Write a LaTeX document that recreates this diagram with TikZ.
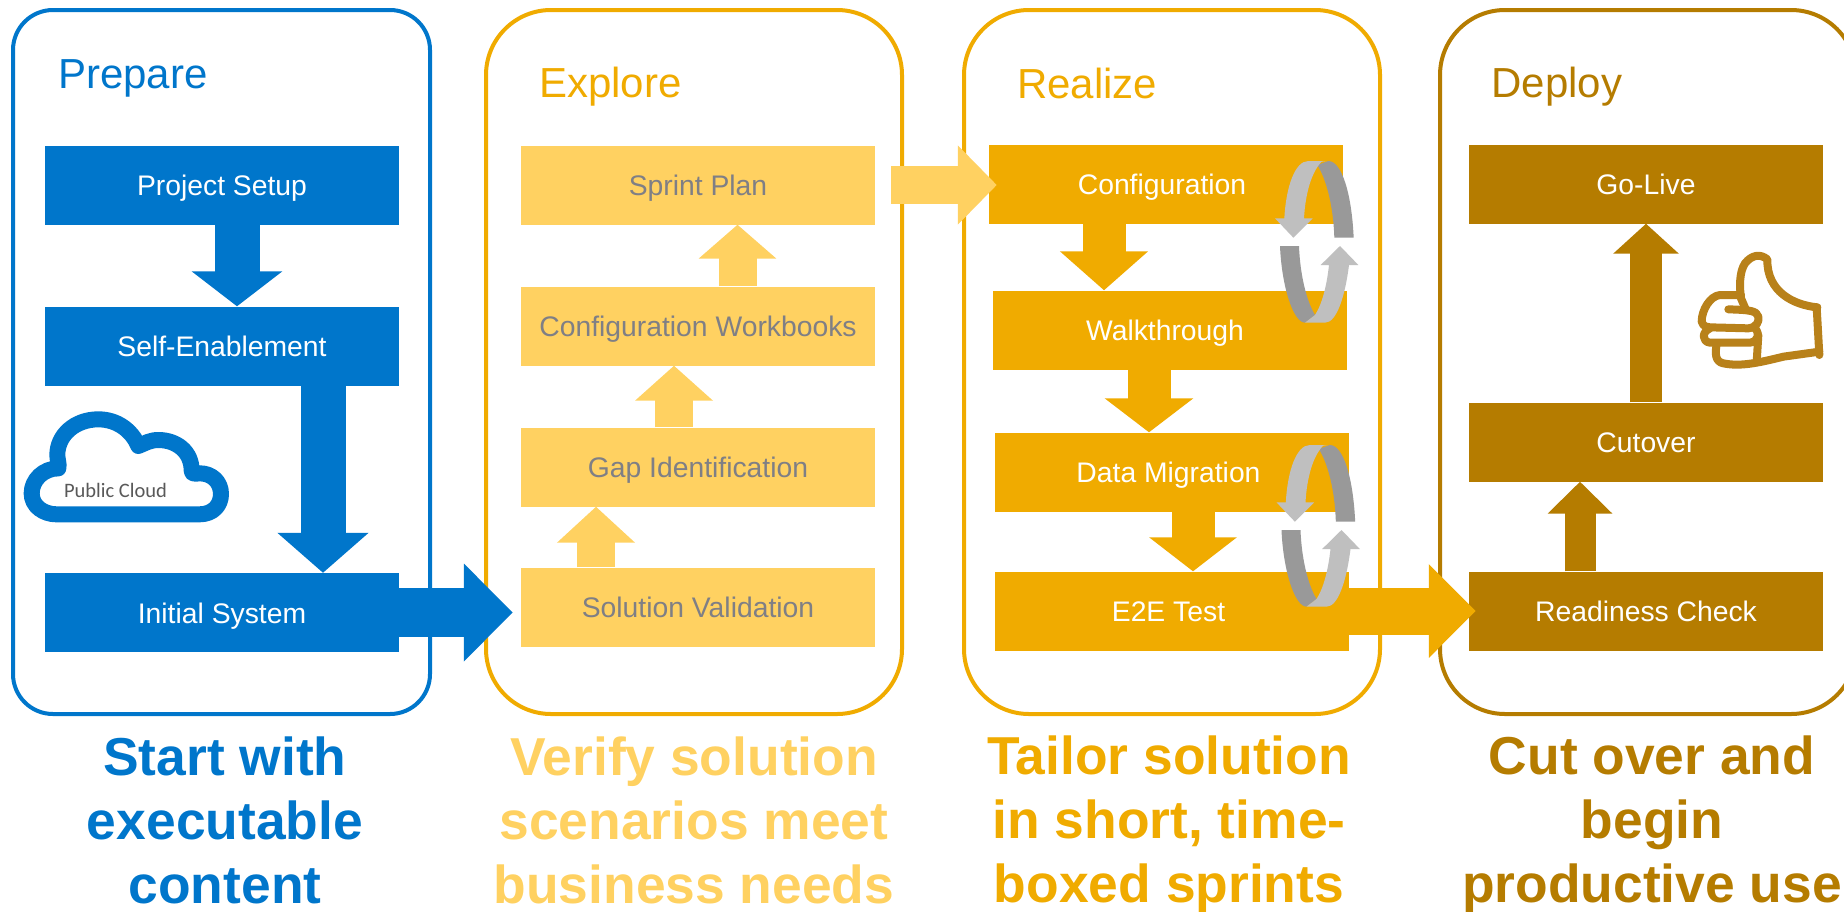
\documentclass[tikz,border=0pt]{standalone}
\usepackage{fontspec}
\setmainfont{Liberation Sans}
\newfontfamily\cloudfont{Carlito}
\usetikzlibrary{arrows.meta}
\definecolor{sapblue}{HTML}{0076CB}
\definecolor{saplight}{HTML}{FFD161}
\definecolor{sapgold}{HTML}{F0AB00}
\definecolor{sapbrown}{HTML}{B57C00}
\definecolor{sapthumb}{HTML}{B8811A}
\definecolor{saptext}{HTML}{7F7F85}
\tikzset{
  phase/.style = {draw = #1, line width = 4pt, fill = white},
  title/.style = {anchor = base west, text = #1, font = \fontsize{42}{42}\selectfont},
  stepbox/.style = {fill = #1, minimum width = 354pt, minimum height = 79pt, inner sep = 0pt, text height = 21pt, text depth = 0pt, text = white, font = \fontsize{28.3}{28.3}\selectfont},
  claim/.style = {text = #1, inner sep = 0pt, align = center, font = \fontsize{53.4}{64}\selectfont\bfseries},
  flow/.style = {draw = #1, line width = 38pt},
  pics/cycle/.code = {
    \fill[black!40] (295,93) .. controls (335,93) and (365,190) .. (371,323) -- (313,323) .. controls (310,230) and (290,150) .. (262,105) -- cycle;
    \fill[black!25] (290,93) -- (235,93) .. controls (195,93) and (168,170) .. (163,265) -- (135,265) -- (190,323) -- (248,265) -- (222,265) .. controls (226,190) and (245,125) .. (275,95) -- cycle;
    \fill[black!40] (150,348) -- (207,348) .. controls (210,430) and (228,510) .. (255,555) -- (225,578) .. controls (190,578) and (155,470) .. (150,348) -- cycle;
    \fill[black!25] (225,578) -- (285,578) .. controls (320,578) and (345,500) .. (357,405) -- (385,405) -- (330,348) -- (272,405) -- (297,405) .. controls (290,470) and (275,525) .. (255,555) -- cycle;
  }
}
\begin{document}
\begin{tikzpicture}[x = 1pt, y = -1pt]
\useasboundingbox (0,0) rectangle (1844,911);
% frames
\draw[phase = sapblue, rounded corners = 40pt] (13,10) rectangle (430,714);
\draw[phase = sapgold, rounded corners = 65pt] (486,10) rectangle (902,714);
\draw[phase = sapgold, rounded corners = 65pt] (964,10) rectangle (1380,714);
\draw[phase = sapbrown, rounded corners = 65pt] (1440,10) rectangle (1856,714);
\node[title = sapblue] (prepare) at (54.5,88.5) {Prepare};
\node[title = sapgold] (explore) at (535.5,97) {Explore};
\node[title = sapgold] (realize) at (1013.5,98) {Realize};
\node[title = sapbrown] (deploy) at (1488,97) {Deploy};
% prepare
\node[stepbox = sapblue] (setup) at (222,185) {Project Setup};
\node[stepbox = sapblue] (enable) at (222,346) {Self-Enablement};
\node[stepbox = sapblue] (initial) at (222,612.5) {Initial System};
% explore
\node[stepbox = saplight, text = saptext] (sprint) at (698,185) {Sprint Plan};
\node[stepbox = saplight, text = saptext] (workbooks) at (698,326) {Configuration Workbooks};
\node[stepbox = saplight, text = saptext] (gap) at (698,467) {Gap Identification};
\node[stepbox = saplight, text = saptext] (validation) at (698,607) {Solution Validation};
% realize
\node[stepbox = sapgold] (config) at (1166,184) {Configuration\hspace*{8pt}};
\node[stepbox = sapgold] (walk) at (1170,330) {Walkthrough\hspace*{10pt}};
\node[stepbox = sapgold] (migration) at (1172,472) {Data Migration\hspace*{7pt}};
\node[stepbox = sapgold] (test) at (1172,611) {E2E Test\hspace*{7pt}};
% deploy
\node[stepbox = sapbrown] (golive) at (1646,184) {Go-Live};
\node[stepbox = sapbrown] (cutover) at (1646,442) {Cutover};
\node[stepbox = sapbrown] (readiness) at (1646,611) {Readiness Check};
% arrows
\draw[flow = sapblue, line width = 45pt, -{Triangle[length = 35pt, width = 89pt]}] ([xshift = 15pt]setup.south) -- ([xshift = 15pt]enable.north);
\draw[flow = sapblue, line width = 45pt, -{Triangle[length = 40pt, width = 89pt]}] ([xshift = 101pt]enable.south) -- ([xshift = 101pt]initial.north);
\draw[flow = sapblue, line width = 49pt, -{Triangle[length = 49pt, width = 95pt]}] (initial.east) -- ([xshift = -8pt]validation.west |- initial.east);
\draw[flow = saplight, -{Triangle[length = 36pt, width = 76pt]}] ([xshift = -102pt]validation.north) -- ([xshift = -102pt]gap.south);
\draw[flow = saplight, -{Triangle[length = 35pt, width = 76pt]}] ([xshift = -24pt]gap.north) -- ([xshift = -24pt]workbooks.south);
\draw[flow = saplight, -{Triangle[length = 34pt, width = 76pt]}] ([xshift = 39.5pt]workbooks.north) -- ([xshift = 39.5pt]sprint.south);
\draw[flow = saplight, -{Triangle[length = 39pt, width = 77pt]}] ([xshift = 16pt]sprint.east) -- ([xshift = 8pt]config.west |- sprint.east);
\draw[flow = sapgold, line width = 43pt, -{Triangle[length = 39pt, width = 86pt]}] ([xshift = -62pt]config.south) -- ([xshift = -62pt]config.south |- walk.north);
\draw[flow = sapgold, line width = 43pt, -{Triangle[length = 34pt, width = 87pt]}] ([xshift = -21pt]walk.south) -- ([xshift = -21pt]walk.south |- migration.north);
\draw[flow = sapgold, line width = 43pt, -{Triangle[length = 34pt, width = 86pt]}] ([xshift = 21pt]migration.south) -- ([xshift = 21pt]test.north);
\draw[flow = sapgold, line width = 47pt, -{Triangle[length = 47pt, width = 91pt]}] (test.east) -- ([xshift = 7pt]readiness.west);
\draw[flow = sapbrown, line width = 31pt, -{Triangle[length = 32pt, width = 63pt]}] ([xshift = -66pt]readiness.north) -- ([xshift = -66pt]cutover.south);
\draw[flow = sapbrown, line width = 32pt, -{Triangle[length = 30pt, width = 64pt]}] (cutover.north) -- (golive.south);
% sprint cycles
\begin{scope}[shift = {(1230,130)}, scale = 1/3]
\pic {cycle};
\end{scope}
\begin{scope}[shift = {(1231.5,414)}, scale = 1/3]
\pic {cycle};
\end{scope}
% cloud
\begin{scope}[shift = {(0,380)}, scale = 1/3]
\draw[sapblue, line width = 16pt, line join = round] (170,403) -- (598,403) .. controls (640,403) and (663,375) .. (663,342) .. controls (663,305) and (635,280) .. (600,280) .. controls (590,280) and (575,285) .. (575,272) .. controls (575,215) and (530,180) .. (475,180) .. controls (450,180) and (435,190) .. (415,198) .. controls (395,150) and (350,118) .. (295,118) .. controls (225,118) and (172,165) .. (172,225) .. controls (172,240) and (178,250) .. (175,265) .. controls (130,265) and (95,300) .. (95,340) .. controls (95,378) and (130,403) .. (170,403) -- cycle;
\end{scope}
\node[text = black!65, font = \cloudfont\fontsize{20.5}{20.5}\selectfont] (publiccloud) at (115.5,490) {Public Cloud};
% thumb
\begin{scope}[shift = {(1660,220)}, scale = 1/3, draw = sapthumb, line width = 8pt, line cap = round, line join = round]
\draw (472,262) .. controls (400,255) and (320,215) .. (322,118) .. controls (300,100) and (275,105) .. (255,130) .. controls (238,155) and (238,200) .. (243,235) -- (258,270);
\draw (243,225) -- (180,225) .. controls (150,228) and (125,270) .. (125,305) .. controls (130,320) and (140,322) .. (150,322) -- (265,325) .. controls (290,322) and (298,305) .. (295,290) .. controls (290,272) and (270,270) .. (205,268);
\draw (150,325) .. controls (125,335) and (125,365) .. (150,368) -- (270,368) .. controls (295,365) and (300,340) .. (285,325);
\draw (170,372) .. controls (165,400) and (165,425) .. (190,430) .. controls (240,440) and (290,430) .. (370,410) -- (478,395);
\draw (295,345) -- (290,425);
\draw (470,262) -- (478,405);
\end{scope}
% claims
\node[claim = sapblue] (startclaim) at (225,820) {Start with\\executable\\content};
\node[claim = saplight] (verifyclaim) at (694,820) {Verify solution\\scenarios meet\\business needs};
\node[claim = sapgold] (tailorclaim) at (1169,825) {Tailor solution\\in short, time-\\boxed sprints};
\node[claim = sapbrown] (cutclaim) at (1652,825) {Cut over and\\begin\\productive use};
\end{tikzpicture}
\end{document}
